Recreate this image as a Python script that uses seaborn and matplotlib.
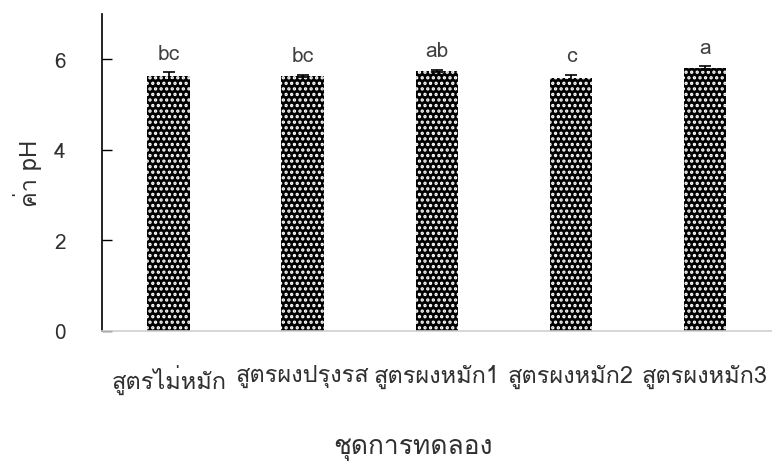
import matplotlib
matplotlib.use("Agg")
import matplotlib.pyplot as plt
from matplotlib import font_manager
from matplotlib.ft2font import FT2Font
import seaborn as sns
import pandas as pd

# Treatments, mean pH, standard error and significance letters
categories = ["สูตรไม่หมัก", "สูตรผงปรุงรส", "สูตรผงหมัก1", "สูตรผงหมัก2", "สูตรผงหมัก3"]
ph_mean = [5.63, 5.63, 5.74, 5.59, 5.80]
ph_err = [0.08, 0.03, 0.03, 0.06, 0.04]
letters = ["bc", "bc", "ab", "c", "a"]
y_ticks = [0, 2, 4, 6]


def thai_family():
    """Return the first installed family that has Thai glyphs."""
    seen = set()
    for f in font_manager.fontManager.ttflist:
        if f.name in seen:
            continue
        seen.add(f.name)
        try:
            cmap = FT2Font(f.fname).get_charmap()
        except Exception:
            continue
        if 0x0E2A in cmap and 0x0E39 in cmap:
            return f.name
    return None


sns.set_theme(style="white")
fam = thai_family()
plt.rcParams["font.family"] = ([fam] if fam else []) + ["DejaVu Sans"]
plt.rcParams["hatch.linewidth"] = 1.6

df = pd.DataFrame({"treatment": categories, "ph": ph_mean})

fig = plt.figure(figsize=(7.72, 4.64), dpi=100)
ax = fig.add_axes([0.132, 0.2845, 0.868, 0.6835])

sns.barplot(data=df, x="treatment", y="ph", color="black", width=0.32,
            errorbar=None, ax=ax, zorder=2)
for bar in ax.patches:
    bar.set_facecolor("black")
    bar.set_edgecolor("white")
    bar.set_linewidth(0)
    bar.set_hatch("...")

ax.errorbar(range(len(categories)), ph_mean, yerr=ph_err, fmt="none",
            ecolor="black", elinewidth=1.2, capsize=4.5, capthick=1.2, zorder=3)

for i, (m, e, t) in enumerate(zip(ph_mean, ph_err, letters)):
    ax.annotate(t, (i, m + e), xytext=(0, 7), textcoords="offset points",
                ha="center", va="bottom", fontsize=15, color="#404040")

ax.set_ylim(0, 7)
ax.set_xlim(-0.5, len(categories) - 0.5)
ax.set_yticks(y_ticks)
ax.tick_params(axis="y", direction="in", length=7, width=1, color="black",
               pad=26, labelsize=15, labelcolor="#303030", left=True)
ax.tick_params(axis="x", length=0, pad=24, labelsize=17, labelcolor="#303030")

for side in ["top", "right"]:
    ax.spines[side].set_visible(False)
ax.spines["left"].set_color("black")
ax.spines["left"].set_linewidth(1.2)
ax.spines["bottom"].set_color("#d0d0d0")
ax.spines["bottom"].set_linewidth(1.2)

ax.set_xlabel("ชุดการทดลอง", fontsize=19, color="#303030")
ax.xaxis.set_label_coords(0.464, -0.33)
ax.set_ylabel("ค่า pH", fontsize=17, color="#303030")
ax.yaxis.set_label_coords(-0.09, 0.5)

fig.savefig("out.png", dpi=100)
